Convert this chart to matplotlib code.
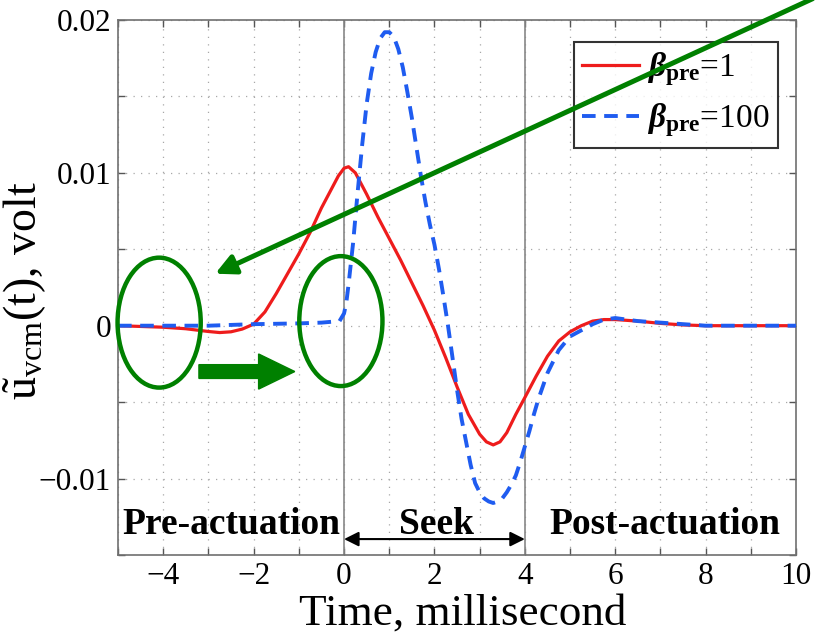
import matplotlib
matplotlib.use("Agg")
import matplotlib.pyplot as plt
from matplotlib.patches import Ellipse, FancyArrow
from matplotlib.ticker import MultipleLocator, FuncFormatter

plt.rcParams['font.family'] = ['Liberation Serif', 'DejaVu Serif']
plt.rcParams['mathtext.fontset'] = 'custom'
plt.rcParams['mathtext.rm'] = 'Liberation Serif'
plt.rcParams['mathtext.it'] = 'Liberation Serif:italic'
plt.rcParams['mathtext.bf'] = 'Liberation Serif:bold'
plt.rcParams['mathtext.bfit'] = 'Liberation Serif:bold:italic'

# VCM control input, beta_pre = 1
t_b1 = [-5, -4.5, -4, -3.5, -3, -2.75, -2.5, -2.25, -2, -1.75, -1.5, -1.25, -1,
        -0.75, -0.5, -0.25, -0.125, 0, 0.1, 0.25, 0.5, 0.75, 1, 1.25, 1.5,
        1.75, 2, 2.25, 2.5, 2.75, 3, 3.15, 3.3, 3.45, 3.6, 3.8, 4,
        4.25, 4.5, 4.75, 5, 5.25, 5.5, 5.75, 6, 6.5, 7, 7.5, 8, 9, 10]
u_b1 = [0, -0.00005, -0.0001, -0.0002, -0.00038, -0.00045, -0.0004, -0.00022,
        0.0001, 0.0009, 0.0021, 0.0034, 0.0047, 0.0061, 0.0077, 0.0091,
        0.0098, 0.0103, 0.0104, 0.0100, 0.0086, 0.0071, 0.0057, 0.0043,
        0.0028, 0.0013, -0.0003, -0.0021, -0.0040, -0.0058, -0.0071, -0.0076,
        -0.0078, -0.0076, -0.0070, -0.0058, -0.0047, -0.0033, -0.0020,
        -0.0010, -0.0004, 0.0000, 0.0003, 0.0004, 0.0004, 0.0003, 0.00015,
        0.00005, 0, 0, 0]

# VCM control input, beta_pre = 100
t_b100 = [-5, -4, -3, -2, -1, -0.5, -0.1, 0, 0.05, 0.1, 0.2, 0.3, 0.4, 0.5,
          0.6, 0.7, 0.8, 0.9, 1.0, 1.1, 1.2, 1.3, 1.4, 1.5, 1.6, 1.7, 1.8, 1.9,
          2.0, 2.1, 2.2, 2.3, 2.4, 2.5, 2.6, 2.7, 2.8, 2.9, 3.0, 3.1, 3.2, 3.3,
          3.4, 3.5, 3.6, 3.7, 3.8, 3.9, 4.0, 4.1, 4.2, 4.3, 4.5, 4.75, 5, 5.25,
          5.5, 5.75, 6, 6.5, 7, 7.5, 8, 9, 10]
u_b100 = [0, 0, 0, 0.0001, 0.00015, 0.0002, 0.0003, 0.0008, 0.0015, 0.0027,
          0.0054, 0.0087, 0.0118, 0.0145, 0.0165, 0.0179, 0.0188, 0.0192,
          0.0192, 0.0189, 0.0181, 0.0169, 0.0153, 0.0136, 0.0117, 0.0098,
          0.0081, 0.0066, 0.0053, 0.0037, 0.0019, 0.0000, -0.0021, -0.0042,
          -0.0061, -0.0076, -0.0091, -0.0103, -0.0109, -0.0113, -0.0115,
          -0.0116, -0.0115, -0.0113, -0.0109, -0.0104, -0.0098, -0.0089,
          -0.0079, -0.0069, -0.0058, -0.0048, -0.0031, -0.0016, -0.0007,
          -0.0003, 0.0001, 0.0004, 0.0005, 0.0003, 0.0002, 0.0001, 0, 0, 0]

phase_labels = ['Pre-actuation', 'Seek', 'Post-actuation']
phase_x = [-2.5, 2.05, 7.1]
seek_start, seek_end = 0, 4

green = '#008000'

fig = plt.figure(figsize=(8.15, 6.36), dpi=100)
ax = fig.add_axes([0.1448, 0.1274, 0.832, 0.8412])

ax.plot(t_b1, u_b1, color='#ee1c1c', lw=2.3, solid_joinstyle='round',
        label=r'$\mathbfit{\beta}_{\mathbf{pre}}$=1', zorder=4)
ax.plot(t_b100, u_b100, color='#1f5cf0', lw=2.8, ls=(0, (3.5, 2.2)),
        label=r'$\mathbfit{\beta}_{\mathbf{pre}}$=100', zorder=4)

ax.set_xlim(-5, 10)
ax.set_ylim(-0.015, 0.02)
ax.xaxis.set_major_locator(MultipleLocator(1))
ax.yaxis.set_major_locator(MultipleLocator(0.005))


def xfmt(v, pos):
    iv = int(round(v))
    if iv % 2:
        return ''
    return f'{iv}'.replace('-', '\u2212')


def yfmt(v, pos):
    k = int(round(v / 0.005))
    if k % 2:
        return ''
    if k == 0:
        return '0'
    return f'{v:.2f}'.replace('-', '\u2212')


ax.xaxis.set_major_formatter(FuncFormatter(xfmt))
ax.yaxis.set_major_formatter(FuncFormatter(yfmt))
ax.tick_params(direction='in', top=True, right=True, length=5, width=1,
               color='#555555', labelsize=22.5, pad=5)
for s in ax.spines.values():
    s.set_color('#707070')
    s.set_linewidth(1.2)

ax.grid(True, color='#a8a8a8', ls=(0, (1, 5)), lw=0.9)
ax.axvline(seek_start, color='#888888', lw=1.2, zorder=2)
ax.axvline(seek_end, color='#888888', lw=1.2, zorder=2)

ax.set_xlabel('Time, millisecond', fontsize=32.5, labelpad=0)
ax.xaxis.set_label_coords(0.509, -0.072)
ax.set_ylabel(r'$\tilde{\mathrm{u}}_{\mathrm{vcm}}$(t), volt', fontsize=33)
ax.yaxis.set_label_coords(-0.103, 0.495)

leg = ax.legend(loc='upper right', bbox_to_anchor=(0.973, 0.959), fontsize=24,
                frameon=True, fancybox=False, handlelength=1.7,
                borderpad=0.25, labelspacing=0.4, handletextpad=0.25,
                borderaxespad=0)
leg.get_frame().set_edgecolor('black')
leg.get_frame().set_linewidth(1.5)

# Phase labels and the seek interval arrow
for lab, xp in zip(phase_labels, phase_x):
    ax.text(xp, -0.01364, lab, ha='center', va='baseline', fontsize=27,
            fontweight='bold', zorder=6)
ax.annotate('', xy=(seek_start, -0.01396), xytext=(seek_end, -0.01396),
            arrowprops=dict(arrowstyle='<|-|>', color='black', lw=1.5,
                            mutation_scale=22, shrinkA=0, shrinkB=0))

# Highlighting marks
for cx, cy in [(-4.09, 0.0002), (-0.07, 0.0003)]:
    ax.add_patch(Ellipse((cx, cy), 1.84, 0.0085, fill=False, ec=green,
                         lw=3.2, clip_on=False, zorder=7))
ax.add_patch(FancyArrow(-3.21, -0.0030, 2.12, 0, width=0.0009,
                        head_width=0.0023, head_length=0.8,
                        length_includes_head=True, color=green,
                        clip_on=False, zorder=7))
ax.annotate('', xy=(-2.85, 0.0034), xycoords='data',
            xytext=(0.997, 1.002), textcoords='figure fraction',
            arrowprops=dict(arrowstyle='-|>', color=green, lw=3.6,
                            mutation_scale=30, shrinkA=0, shrinkB=0),
            zorder=8, annotation_clip=False)

fig.savefig('out.png', dpi=100)
